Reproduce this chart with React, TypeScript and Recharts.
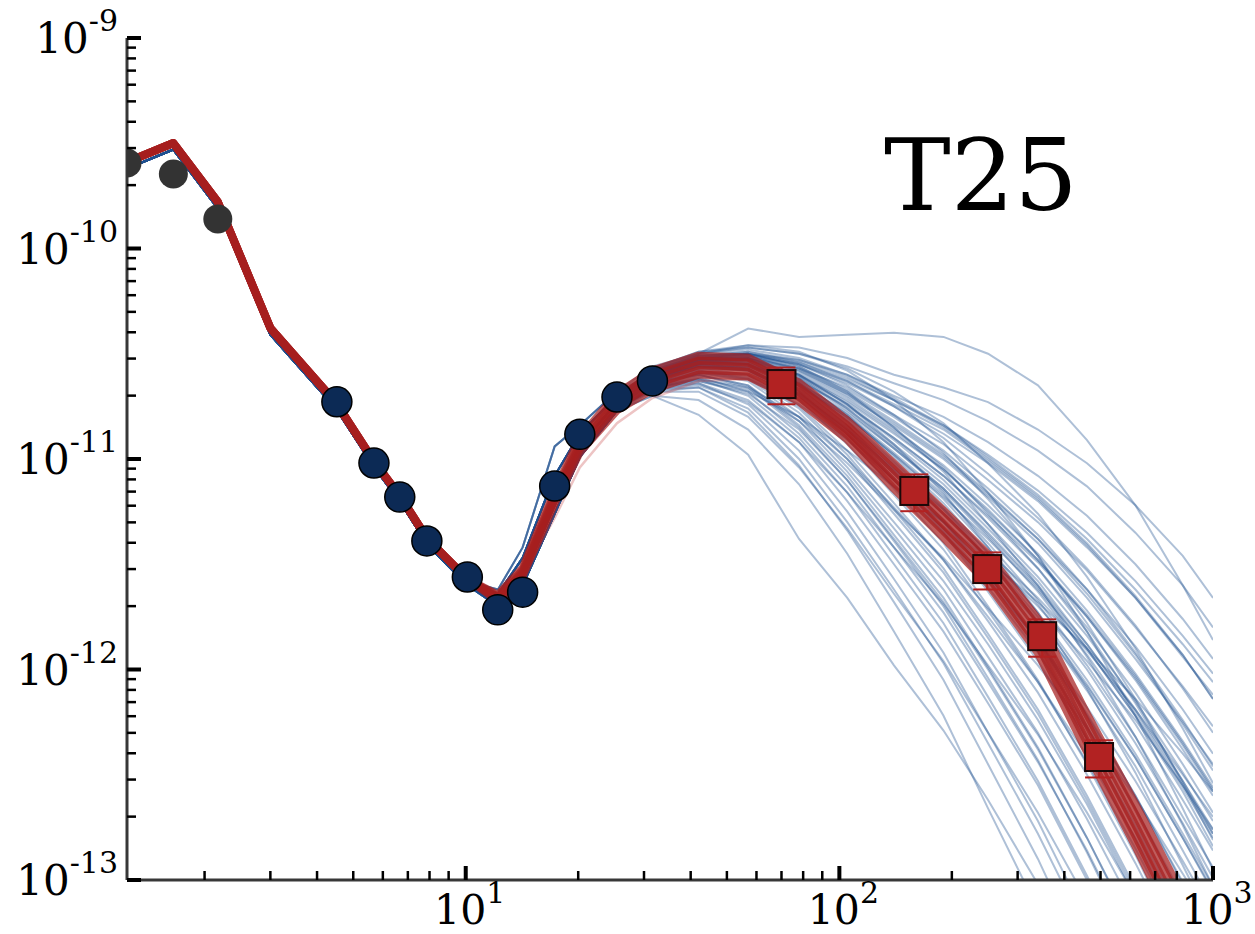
import React from 'react'
import { ComposedChart, Line, Scatter, XAxis, YAxis, ErrorBar } from 'recharts'

// x grid the model curves are evaluated on
const modelX = [1.24, 1.65, 2.17, 3.0, 4.5, 5.7, 6.7, 7.9, 10.1, 12.2, 14.2, 17.3, 20.2, 25.4, 31.6, 42, 57, 78, 105, 140, 190, 250, 340, 460, 620, 830, 1000]

// log10(y) of the curves, first part (modelX[0..8]) is common to all samples
const redHeadLog = [-9.589, -9.499, -9.779, -10.378, -10.734, -11.015, -11.181, -11.38, -11.57]
const blueHeadLog = [
  [-9.6, -9.512, -9.79, -10.39, -10.746, -11.027, -11.193, -11.392, -11.582],
  [-9.62, -9.53, -9.81, -10.41, -10.762, -11.043, -11.209, -11.408, -11.6],
]

// red samples, log10(y) at modelX[9..26]
const redTailsLog = [
  [-11.66, -11.537, -11.181, -10.933, -10.729, -10.625, -10.554, -10.563, -10.682, -10.862, -11.081, -11.309, -11.523, -11.841, -12.302, -12.739, -13.185, -13.466],
  [-11.645, -11.517, -11.151, -10.898, -10.689, -10.58, -10.509, -10.518, -10.637, -10.817, -11.021, -11.244, -11.453, -11.761, -12.212, -12.639, -13.075, -13.346],
  [-11.675, -11.557, -11.211, -10.968, -10.769, -10.67, -10.599, -10.608, -10.727, -10.907, -11.141, -11.374, -11.593, -11.921, -12.392, -12.839, -13.295, -13.586],
  [-11.652, -11.527, -11.166, -10.916, -10.709, -10.603, -10.532, -10.541, -10.66, -10.84, -11.051, -11.277, -11.488, -11.801, -12.257, -12.689, -13.13, -13.406],
  [-11.668, -11.547, -11.196, -10.951, -10.749, -10.647, -10.577, -10.586, -10.705, -10.885, -11.111, -11.342, -11.558, -11.881, -12.347, -12.789, -13.24, -13.526],
]
const pinkTailLog = [-11.64, -11.56, -11.28, -11.04, -10.83, -10.71, -10.63, -10.62, -10.71, -10.88, -11.1, -11.33, -11.54, -11.87, -12.33, -12.77, -13.22, -13.5]

// blue samples: log10(y) at modelX[9..13] (a few shapes) and modelX[14..26]
const blueMidLog = [
  [-11.67, -11.55, -11.19, -10.94, -10.73],
  [-11.64, -11.47, -11.08, -10.88, -10.7],
  [-11.7, -11.6, -11.26, -10.99, -10.77],
  [-11.62, -11.42, -10.94, -10.84, -10.68],
  [-11.69, -11.57, -11.22, -10.97, -10.75],
]
const blueTailsLog = [
  [-10.56, -10.5, -10.38, -10.42, -10.41, -10.4, -10.42, -10.5, -10.65, -10.91, -11.22, -11.6, -11.86],
  [-10.58, -10.5, -10.46, -10.47, -10.52, -10.6, -10.66, -10.73, -10.86, -11.02, -11.22, -11.46, -11.66],
  [-10.57, -10.49, -10.47, -10.5, -10.56, -10.64, -10.72, -10.82, -10.96, -11.13, -11.35, -11.6, -11.8],
  [-10.6, -10.52, -10.5, -10.53, -10.6, -10.7, -10.8, -10.92, -11.08, -11.27, -11.5, -11.76, -11.95],
  [-10.59, -10.51, -10.5, -10.55, -10.64, -10.75, -10.88, -11.02, -11.2, -11.42, -11.66, -11.94, -12.12],
  [-10.62, -10.54, -10.52, -10.57, -10.66, -10.79, -10.93, -11.1, -11.3, -11.53, -11.8, -12.08, -12.27],
  [-10.6, -10.52, -10.51, -10.58, -10.7, -10.84, -11.0, -11.18, -11.4, -11.66, -11.95, -12.25, -12.45],
  [-10.63, -10.55, -10.53, -10.6, -10.73, -10.88, -11.05, -11.24, -11.48, -11.75, -12.05, -12.38, -12.6],
  [-10.61, -10.53, -10.52, -10.61, -10.76, -10.93, -11.12, -11.33, -11.58, -11.88, -12.2, -12.55, -12.78],
  [-10.62, -10.55, -10.55, -10.64, -10.79, -10.97, -11.17, -11.4, -11.67, -11.98, -12.32, -12.7, -12.94],
  [-10.6, -10.53, -10.54, -10.65, -10.82, -11.02, -11.24, -11.48, -11.77, -12.1, -12.46, -12.86, -13.12],
  [-10.63, -10.56, -10.56, -10.67, -10.85, -11.06, -11.29, -11.55, -11.86, -12.21, -12.6, -13.02, -13.3],
  [-10.61, -10.54, -10.55, -10.68, -10.88, -11.1, -11.35, -11.63, -11.96, -12.33, -12.74, -13.18, -13.48],
  [-10.62, -10.55, -10.57, -10.7, -10.9, -11.14, -11.4, -11.7, -12.05, -12.45, -12.88, -13.34, -13.64],
  [-10.6, -10.53, -10.55, -10.65, -10.8, -10.98, -11.18, -11.38, -11.62, -11.9, -12.22, -12.56, -12.8],
  [-10.58, -10.51, -10.5, -10.56, -10.67, -10.8, -10.96, -11.14, -11.36, -11.62, -11.92, -12.24, -12.46],
  [-10.59, -10.52, -10.52, -10.59, -10.71, -10.86, -11.03, -11.22, -11.45, -11.72, -12.02, -12.34, -12.56],
  [-10.57, -10.5, -10.48, -10.52, -10.6, -10.71, -10.84, -10.99, -11.17, -11.38, -11.62, -11.88, -12.06],
  [-10.61, -10.53, -10.51, -10.55, -10.63, -10.74, -10.86, -11.01, -11.19, -11.41, -11.66, -11.93, -12.14],
  [-10.63, -10.56, -10.56, -10.63, -10.75, -10.9, -11.08, -11.28, -11.52, -11.8, -12.11, -12.45, -12.68],
  [-10.64, -10.58, -10.62, -10.78, -11.0, -11.26, -11.54, -11.85, -12.21, -12.62, -13.06, -13.52, -13.82],
  [-10.65, -10.6, -10.65, -10.84, -11.08, -11.36, -11.66, -11.99, -12.37, -12.8, -13.26, -13.74, -14.05],
  [-10.66, -10.62, -10.7, -10.9, -11.16, -11.46, -11.78, -12.13, -12.53, -12.98, -13.46, -13.96, -14.28],
  [-10.67, -10.64, -10.74, -10.96, -11.25, -11.57, -11.92, -12.3, -12.72, -13.19, -13.7, -14.2, -14.5],
  [-10.68, -10.66, -10.78, -11.03, -11.34, -11.68, -12.05, -12.45, -12.9, -13.4, -13.9, -14.4, -14.7],
  [-10.7, -10.72, -10.86, -11.12, -11.45, -11.82, -12.22, -12.66, -13.14, -13.66, -14.2, -14.7, -15.0],
  [-10.7, -10.79, -10.98, -11.38, -11.66, -11.98, -12.29, -12.62, -13.02, -13.45, -13.9, -14.4, -14.7],
  [-10.66, -10.64, -10.72, -10.92, -11.2, -11.5, -11.82, -12.16, -12.55, -13.0, -13.48, -13.98, -14.3],
  [-10.64, -10.59, -10.63, -10.8, -11.04, -11.3, -11.58, -11.88, -12.24, -12.64, -13.08, -13.54, -13.84],
  [-10.65, -10.61, -10.68, -10.88, -11.13, -11.42, -11.73, -12.06, -12.44, -12.86, -13.32, -13.8, -14.1],
  [-10.63, -10.57, -10.6, -10.75, -10.96, -11.21, -11.48, -11.77, -12.11, -12.5, -12.92, -13.36, -13.65],
  [-10.62, -10.56, -10.58, -10.72, -10.93, -11.17, -11.43, -11.72, -12.06, -12.44, -12.85, -13.28, -13.56],
  [-10.6, -10.53, -10.53, -10.61, -10.74, -10.9, -11.08, -11.27, -11.49, -11.75, -12.04, -12.36, -12.58],
  [-10.59, -10.52, -10.51, -10.57, -10.68, -10.82, -10.98, -11.16, -11.38, -11.64, -11.93, -12.26, -12.48],
  [-10.62, -10.54, -10.53, -10.62, -10.77, -10.95, -11.15, -11.37, -11.63, -11.93, -12.26, -12.62, -12.86],
  [-10.61, -10.53, -10.53, -10.63, -10.79, -10.99, -11.21, -11.45, -11.73, -12.05, -12.4, -12.78, -13.03],
  [-10.58, -10.51, -10.49, -10.54, -10.63, -10.75, -10.9, -11.07, -11.28, -11.52, -11.79, -12.09, -12.3],
  [-10.6, -10.52, -10.5, -10.54, -10.62, -10.72, -10.84, -10.98, -11.15, -11.35, -11.58, -11.84, -12.02],
  [-10.62, -10.55, -10.55, -10.64, -10.78, -10.95, -11.14, -11.35, -11.6, -11.88, -12.19, -12.53, -12.76],
  [-10.61, -10.54, -10.54, -10.62, -10.76, -10.94, -11.14, -11.36, -11.61, -11.9, -12.22, -12.58, -12.84],
  [-10.66, -10.63, -10.69, -10.86, -11.1, -11.38, -11.68, -12.0, -12.38, -12.8, -13.25, -13.72, -14.0],
  [-10.67, -10.66, -10.76, -11.0, -11.3, -11.62, -11.97, -12.35, -12.78, -13.25, -13.75, -14.25, -14.55],
  [-10.64, -10.6, -10.66, -10.85, -11.1, -11.39, -11.7, -12.04, -12.43, -12.87, -13.34, -13.82, -14.1],
  [-10.63, -10.58, -10.61, -10.76, -10.98, -11.24, -11.52, -11.83, -12.19, -12.6, -13.04, -13.5, -13.8],
  [-10.61, -10.54, -10.54, -10.64, -10.81, -11.01, -11.23, -11.47, -11.75, -12.07, -12.42, -12.8, -13.05],
  [-10.6, -10.53, -10.52, -10.6, -10.74, -10.91, -11.1, -11.31, -11.56, -11.84, -12.15, -12.49, -12.72],
  [-10.59, -10.51, -10.49, -10.53, -10.61, -10.72, -10.85, -11.0, -11.18, -11.4, -11.65, -11.93, -12.14],
  [-10.62, -10.56, -10.57, -10.68, -10.86, -11.07, -11.3, -11.56, -11.87, -12.22, -12.6, -13.01, -13.28],
  [-10.57, -10.49, -10.46, -10.49, -10.58, -10.72, -10.92, -11.16, -11.46, -11.82, -12.22, -12.66, -12.95],
  [-10.66, -10.63, -10.68, -10.8, -10.96, -11.13, -11.3, -11.48, -11.68, -11.9, -12.14, -12.4, -12.58],
  [-10.61, -10.54, -10.55, -10.66, -10.84, -11.05, -11.26, -11.47, -11.7, -11.96, -12.24, -12.55, -12.76],
  [-10.58, -10.5, -10.47, -10.5, -10.57, -10.68, -10.83, -11.02, -11.26, -11.56, -11.9, -12.28, -12.54],
  [-10.64, -10.59, -10.62, -10.74, -10.91, -11.1, -11.3, -11.52, -11.78, -12.08, -12.42, -12.8, -13.06],
  [-10.59, -10.52, -10.52, -10.6, -10.74, -10.93, -11.16, -11.42, -11.73, -12.09, -12.49, -12.93, -13.22],
  [-10.65, -10.62, -10.67, -10.82, -11.02, -11.24, -11.47, -11.71, -11.98, -12.28, -12.61, -12.97, -13.2],
  [-10.6, -10.52, -10.5, -10.55, -10.65, -10.79, -10.97, -11.19, -11.46, -11.78, -12.14, -12.54, -12.81],
  [-10.63, -10.57, -10.58, -10.69, -10.87, -11.09, -11.34, -11.61, -11.92, -12.27, -12.66, -13.08, -13.36],
  [-10.67, -10.65, -10.73, -10.92, -11.16, -11.42, -11.69, -11.98, -12.31, -12.68, -13.08, -13.5, -13.78],
  [-10.62, -10.55, -10.56, -10.65, -10.8, -10.98, -11.19, -11.42, -11.69, -12.0, -12.35, -12.73, -12.99],
  [-10.58, -10.51, -10.5, -10.56, -10.68, -10.85, -11.06, -11.31, -11.6, -11.94, -12.32, -12.74, -13.03],
  [-10.61, -10.55, -10.57, -10.69, -10.86, -11.05, -11.24, -11.44, -11.66, -11.91, -12.19, -12.5, -12.7],
  [-10.66, -10.62, -10.66, -10.8, -11.0, -11.23, -11.48, -11.75, -12.06, -12.41, -12.8, -13.22, -13.5],
  [-10.6, -10.53, -10.53, -10.6, -10.72, -10.87, -11.05, -11.25, -11.48, -11.74, -12.03, -12.35, -12.57],
  [-10.59, -10.52, -10.51, -10.57, -10.69, -10.85, -11.04, -11.26, -11.52, -11.82, -12.16, -12.53, -12.78],
  [-10.68, -10.68, -10.8, -11.04, -11.33, -11.64, -11.96, -12.3, -12.68, -13.1, -13.55, -14.0, -14.3],
  [-10.64, -10.6, -10.65, -10.82, -11.06, -11.33, -11.62, -11.94, -12.3, -12.71, -13.15, -13.62, -13.92],
  [-10.62, -10.56, -10.58, -10.7, -10.88, -11.1, -11.33, -11.58, -11.86, -12.18, -12.53, -12.91, -13.16],
  [-10.6, -10.53, -10.52, -10.58, -10.69, -10.83, -10.99, -11.17, -11.38, -11.62, -11.89, -12.19, -12.4],
]
const blueHeadPick = [
  0, 1, 0, 0, 1, 0, 1, 0, 0, 1, 0, 0, 1, 0, 1, 0, 0, 1, 0, 0, 1, 1, 0, 1, 1, 1, 1, 0, 1, 0, 0, 1, 0, 0,
  1, 0, 0, 1, 0, 1, 1, 1, 0, 1, 0, 0, 1, 0, 0, 1, 0, 1, 0, 0, 1, 0, 1, 1, 0, 0, 1, 0, 0, 1, 1, 1, 0, 0,
]
const blueMidPick = [
  3, 1, 0, 2, 4, 1, 0, 3, 2, 0, 4, 1, 0, 2, 0, 1, 4, 0, 2, 3, 0, 2, 2, 4, 4, 2, 2, 0, 4, 2, 0, 1, 0, 3,
  2, 4, 1, 0, 2, 0, 2, 4, 2, 0, 1, 0, 1, 4, 0, 2, 1, 0, 4, 0, 2, 1, 4, 2, 0, 1, 2, 4, 0, 1, 2, 4, 0, 1,
]

// observed points
const grayX = [1.24, 1.65, 2.17]
const grayY = [2.55e-10, 2.26e-10, 1.38e-10]
const navyX = [4.52, 5.68, 6.66, 7.87, 10.1, 12.18, 14.2, 17.3, 20.2, 25.4, 31.6]
const navyY = [1.87e-11, 9.57e-12, 6.59e-12, 4.08e-12, 2.75e-12, 1.92e-12, 2.33e-12, 7.44e-12, 1.31e-11, 1.97e-11, 2.35e-11]
const squareX = [70, 158.7, 248.7, 349, 495.5]
const squareY = [2.27e-11, 7.05e-12, 3.0e-12, 1.44e-12, 3.84e-13]
const squareErr = [4.5e-12, 1.4e-12, 6e-13, 2.9e-13, 7.7e-14]

const xTicks = [2, 3, 4, 5, 6, 7, 8, 9, 10, 20, 30, 40, 50, 60, 70, 80, 90, 100, 200, 300, 400, 500, 600, 700, 800, 900, 1000]
const yTicks = [
  1e-13, 2e-13, 3e-13, 4e-13, 5e-13, 6e-13, 7e-13, 8e-13, 9e-13,
  1e-12, 2e-12, 3e-12, 4e-12, 5e-12, 6e-12, 7e-12, 8e-12, 9e-12,
  1e-11, 2e-11, 3e-11, 4e-11, 5e-11, 6e-11, 7e-11, 8e-11, 9e-11,
  1e-10, 2e-10, 3e-10, 4e-10, 5e-10, 6e-10, 7e-10, 8e-10, 9e-10, 1e-9,
]

const FONT = 'DejaVu Serif'
const PLOT_LEFT = 127

const toSeries = (logs: number[]) => logs.map((v, i) => ({ x: modelX[i], y: 10 ** v }))
const pts = (xs: number[], ys: number[]) => xs.map((x, i) => ({ x, y: ys[i] }))

const redSeries = redTailsLog.map((t) => toSeries([...redHeadLog, ...t]))
const pinkSeries = toSeries([...redHeadLog, ...pinkTailLog])
const blueSeries = blueTailsLog.map((t, i) =>
  toSeries([...blueHeadLog[blueHeadPick[i]], ...blueMidLog[blueMidPick[i]], ...t])
)
const grayData = pts(grayX, grayY)
const navyData = pts(navyX, navyY)
const squareData = squareX.map((x, i) => ({ x, y: squareY[i], err: squareErr[i] }))

const isMajor = (v: number) => {
  const lg = Math.log10(v)
  return Math.abs(lg - Math.round(lg)) < 1e-6
}

const XTick = ({ x, y, payload }: any) => {
  const major = isMajor(payload.value)
  return (
    <g>
      <line x1={x} x2={x} y1={y} y2={y - (major ? 14 : 9)} stroke="#000" strokeWidth={major ? 4 : 2.5} />
      {major && (
        <text x={x + 4} y={y + 44} textAnchor="middle" fontFamily={FONT} fontSize={41} fill="#000">
          10<tspan dy={-21} fontSize={30}>{Math.round(Math.log10(payload.value))}</tspan>
        </text>
      )}
    </g>
  )
}

const YTick = ({ x, y, payload }: any) => {
  const major = isMajor(payload.value)
  return (
    <g>
      <line x1={x} x2={x + (major ? 14 : 9)} y1={y} y2={y} stroke="#000" strokeWidth={major ? 4 : 2.5} />
      {major && (
        <text x={x - 9} y={y + 15} textAnchor="end" fontFamily={FONT} fontSize={42} fill="#000">
          10<tspan dy={-22} fontSize={30}>{Math.round(Math.log10(payload.value))}</tspan>
        </text>
      )}
    </g>
  )
}

const GrayDot = (p: any) => (
  <g>
    <defs>
      <clipPath id="grayDotClip">
        <rect x={PLOT_LEFT} y={0} width={1200} height={1000} />
      </clipPath>
    </defs>
    <circle cx={p.cx} cy={p.cy} r={14.5} fill="#333333" clipPath="url(#grayDotClip)" />
  </g>
)
const NavyDot = (p: any) => <circle cx={p.cx} cy={p.cy} r={15} fill="#0c2a55" stroke="#000" strokeWidth={1.5} />
const RedSquare = (p: any) => (
  <rect x={p.cx - 14} y={p.cy - 14} width={28} height={28} fill="#b22222" stroke="#1a0808" strokeWidth={2} />
)

export default function App() {
  return (
    <div style={{ position: 'relative', width: 1255, height: 934 }}>
      <style>{'body{margin:0}'}</style>
      <ComposedChart width={1255} height={934} margin={{ top: 38, right: 42, bottom: 0, left: 0 }}>
        <XAxis
          type="number"
          dataKey="x"
          scale="log"
          domain={[1.24, 1000]}
          allowDataOverflow
          ticks={xTicks}
          interval={0}
          tick={(p: any) => <XTick {...p} />}
          tickLine={false}
          tickSize={0}
          tickMargin={0}
          height={54}
          axisLine={{ stroke: '#383838', strokeWidth: 3 }}
        />
        <YAxis
          type="number"
          scale="log"
          domain={[1e-13, 1e-9]}
          allowDataOverflow
          ticks={yTicks}
          interval={0}
          tick={(p: any) => <YTick {...p} />}
          tickLine={false}
          tickSize={0}
          tickMargin={0}
          width={127}
          axisLine={{ stroke: '#383838', strokeWidth: 3 }}
        />
        {blueSeries.map((d, i) => (
          <Line
            key={'b' + i}
            data={d}
            dataKey="y"
            type="linear"
            stroke="#1f4f8f"
            strokeOpacity={0.36}
            strokeWidth={2}
            dot={false}
            activeDot={false}
            isAnimationActive={false}
          />
        ))}
        <Line
          data={pinkSeries}
          dataKey="y"
          type="linear"
          stroke="#c23a3a"
          strokeOpacity={0.3}
          strokeWidth={2.5}
          dot={false}
          activeDot={false}
          isAnimationActive={false}
        />
        {redSeries.map((d, i) => (
          <Line
            key={'r' + i}
            data={d}
            dataKey="y"
            type="linear"
            stroke="#a61e1e"
            strokeOpacity={0.72}
            strokeWidth={8}
            strokeLinejoin="round"
            dot={false}
            activeDot={false}
            isAnimationActive={false}
          />
        ))}
        <Scatter data={grayData} dataKey="y" shape={GrayDot} isAnimationActive={false} />
        <Scatter data={navyData} dataKey="y" shape={NavyDot} isAnimationActive={false} />
        <Scatter data={squareData} dataKey="y" shape={RedSquare} isAnimationActive={false}>
          <ErrorBar dataKey="err" direction="y" width={14} stroke="#b22222" strokeWidth={2} />
        </Scatter>
      </ComposedChart>
      <svg width={1255} height={934} style={{ position: 'absolute', left: 0, top: 0, pointerEvents: 'none' }}>
        <text x={884} y={210} fontFamily={FONT} fontSize={100} fill="#000">
          T25
        </text>
      </svg>
    </div>
  )
}
